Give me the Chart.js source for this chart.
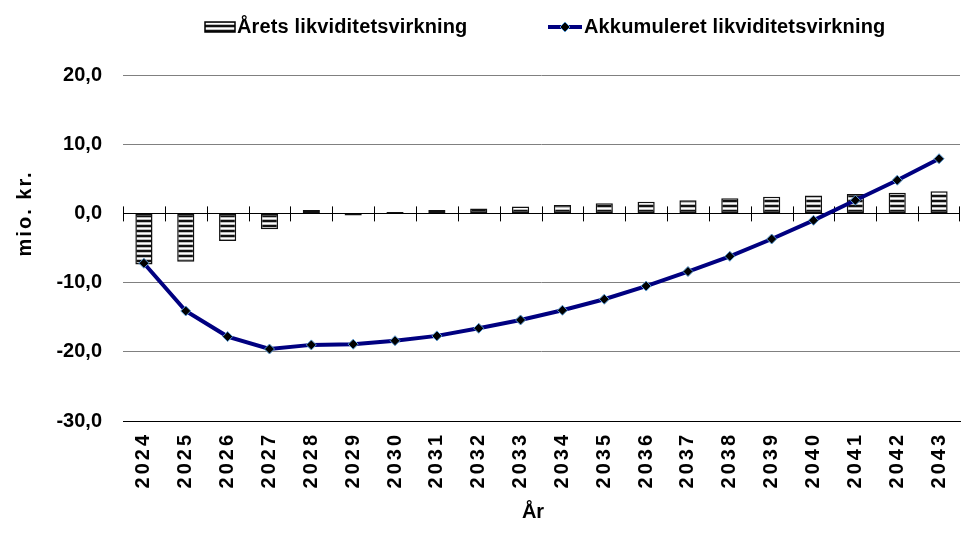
<!DOCTYPE html>
<html><head><meta charset="utf-8">
<style>html,body{margin:0;padding:0;background:#fff;overflow:hidden}#wrap{width:962px;height:547px}</style>
<script src="https://cdn.jsdelivr.net/npm/chart.js@4.4.1/dist/chart.umd.min.js"></script>
</head><body><div id="wrap"><canvas id="c" width="962" height="547"></canvas></div>
<script>
const categories = ['2024','2025','2026','2027','2028','2029','2030','2031','2032','2033','2034','2035','2036','2037','2038','2039','2040','2041','2042','2043'];
const aretsValues = [-7.4,-7.0,-4.0,-2.3,0.5,-0.3,0.2,0.5,0.7,1.0,1.2,1.45,1.7,1.9,2.2,2.4,2.6,2.8,3.0,3.2];
const akkumuleretValues = [-7.2,-14.1,-17.8,-19.6,-19.0,-18.9,-18.4,-17.7,-16.6,-15.4,-14.0,-12.4,-10.5,-8.4,-6.2,-3.7,-1.0,1.9,4.8,7.9];
const seriesNames = ['Årets likviditetsvirkning','Akkumuleret likviditetsvirkning'];
const yMin = -30, yMax = 20, yStep = 10;
const yTitle = 'mio. kr.';
const xTitle = 'År';

const FONT = 'Arial, "Liberation Sans", sans-serif';

function makePattern() {
  const p = document.createElement('canvas');
  p.width = 8; p.height = 5;
  const g = p.getContext('2d');
  const rows = ['#111111','#111111','#bdbdbd','#ffffff','#bdbdbd'];
  rows.forEach((c,i)=>{ g.fillStyle=c; g.fillRect(0,i,8,1); });
  return document.getElementById('c').getContext('2d').createPattern(p,'repeat');
}
const stripe = makePattern();

const decorPlugin = {
  id: 'decor',
  beforeDatasetsDraw(chart) {
    const ctx = chart.ctx, x = chart.scales.x, y = chart.scales.y, a = chart.chartArea;
    const y0 = y.getPixelForValue(0);
    ctx.save();
    ctx.strokeStyle = '#000'; ctx.lineWidth = 1;
    ctx.beginPath();
    ctx.moveTo(a.left, Math.round(y0)+0.5); ctx.lineTo(a.right, Math.round(y0)+0.5);
    const n = categories.length;
    for (let i = 0; i <= n; i++) {
      let px;
      if (i === 0) px = a.left;
      else if (i === n) px = a.right - 1;
      else px = (x.getPixelForValue(i-1) + x.getPixelForValue(i)) / 2;
      px = Math.round(px) + 0.5;
      ctx.moveTo(px, y0 - 7); ctx.lineTo(px, y0 + 8);
    }
    ctx.stroke();
    ctx.restore();
  },
  afterDatasetsDraw(chart) {
    chart.ctx.letterSpacing = '3px';
  },
  afterDraw(chart) {
    const ctx = chart.ctx;
    ctx.letterSpacing = '0px';
    ctx.save();
    ctx.fillStyle = '#000';
    ctx.font = 'bold 20px ' + FONT;
    ctx.textBaseline = 'middle';
    // y title
    ctx.save();
    ctx.translate(25, chart.scales.y.getPixelForValue(0));
    ctx.rotate(-Math.PI/2);
    ctx.textAlign = 'center';
    ctx.letterSpacing = '2px';
    ctx.fillText(yTitle, 0, 0);
    ctx.restore();
    // x title
    ctx.textAlign = 'center';
    ctx.fillText(xTitle, 533, 512);
    // legend
    const ly = 27;
    ctx.fillStyle = stripe;
    ctx.fillRect(205, 22, 30, 10);
    ctx.strokeStyle = '#000'; ctx.lineWidth = 1.5;
    ctx.strokeRect(205, 22, 30, 10);
    ctx.fillStyle = '#000';
    ctx.textAlign = 'left';
    ctx.letterSpacing = '0.15px';
    ctx.fillText(seriesNames[0], 237, ly);
    ctx.strokeStyle = '#000080'; ctx.lineWidth = 4;
    ctx.beginPath(); ctx.moveTo(548, ly); ctx.lineTo(582, ly); ctx.stroke();
    ctx.beginPath();
    ctx.moveTo(565, ly-5); ctx.lineTo(570, ly); ctx.lineTo(565, ly+5); ctx.lineTo(560, ly); ctx.closePath();
    ctx.fillStyle = '#000'; ctx.fill();
    ctx.strokeStyle = '#5b9bd5'; ctx.lineWidth = 1; ctx.stroke();
    ctx.fillText(seriesNames[1], 584, ly);
    ctx.restore();
  }
};

new Chart(document.getElementById('c'), {
  data: {
    labels: categories,
    datasets: [
      {
        type: 'line', label: seriesNames[1], data: akkumuleretValues, order: 0,
        borderColor: '#000080', borderWidth: 4, tension: 0, fill: false,
        pointStyle: 'rectRot', pointRadius: 5, pointBackgroundColor: '#000',
        pointBorderColor: '#5b9bd5', pointBorderWidth: 1
      },
      {
        type: 'bar', label: seriesNames[0], data: aretsValues, order: 1,
        backgroundColor: stripe, borderColor: '#111', borderWidth: 1.5, borderSkipped: false,
        barPercentage: 0.41, categoryPercentage: 1
      }
    ]
  },
  options: {
    responsive: false, animation: false, devicePixelRatio: 1,
    layout: { autoPadding: false, padding: { top: 75, left: 0, right: 2, bottom: 0 } },
    plugins: { legend: { display: false }, tooltip: { enabled: false }, title: { display: false } },
    scales: {
      x: {
        grid: { display: false, drawTicks: false },
        border: { display: true, color: '#000', width: 1 },
        ticks: { minRotation: 90, maxRotation: 90, autoSkip: false, padding: 11, color: '#000',
                 font: { family: FONT, size: 20, weight: 'bold' }, z: 1 },
        afterFit(s) { s.height = 126; s.paddingLeft = 0; s.paddingRight = 0; }
      },
      y: {
        min: yMin, max: yMax,
        grid: { drawTicks: false, color: c => (c.tick && (c.tick.value === 0 || c.tick.value === yMin)) ? '#000' : '#808080', lineWidth: 1 },
        border: { display: false },
        ticks: { stepSize: yStep, padding: 21, color: '#000', font: { family: FONT, size: 20, weight: 'bold' },
                 callback: v => v.toFixed(1).replace('.', ',') },
        afterFit(s) { s.width = 123; s.paddingTop = 0; s.paddingBottom = 0; }
      }
    }
  },
  plugins: [decorPlugin]
});
</script></body></html>
